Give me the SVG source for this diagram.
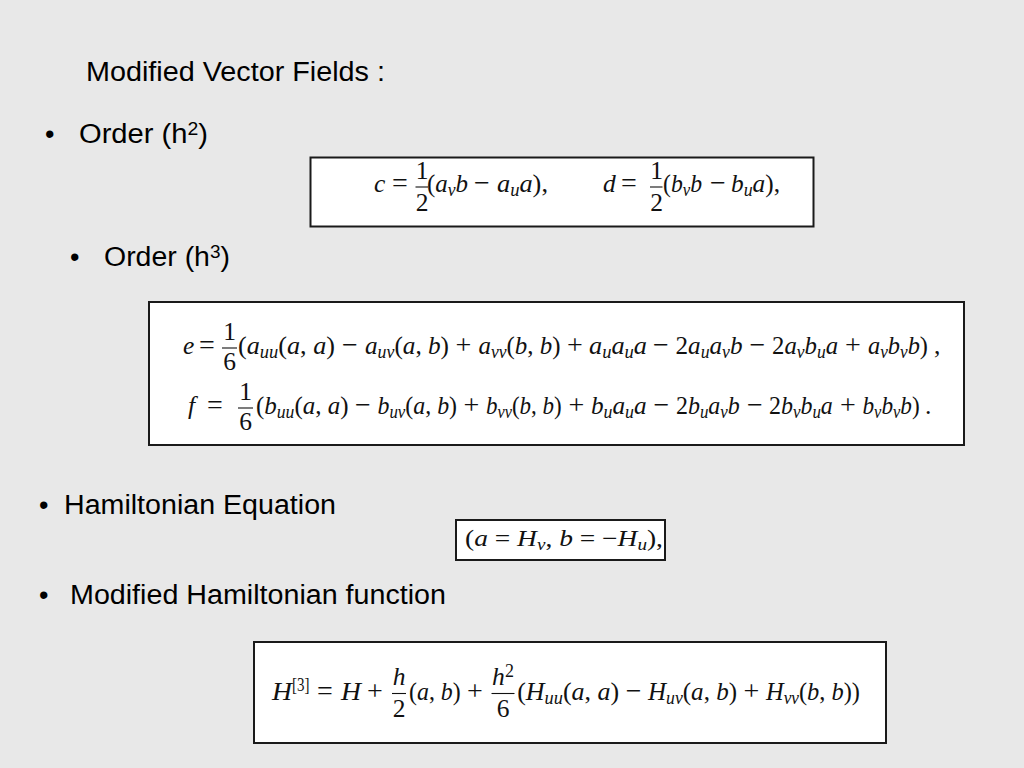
<svg xmlns="http://www.w3.org/2000/svg" width="1024" height="768" viewBox="0 0 1024 768">
<style>
.t{font-family:"Liberation Sans",Arial,sans-serif;font-size:27px;fill:#000}
.m{font-family:"Liberation Serif","Times New Roman",serif;font-size:25.5px;fill:#111}
.i{font-style:italic}
.s{font-size:18px}
.o{font-family:"Liberation Serif","Times New Roman",serif;font-size:28px;fill:#111;text-anchor:middle}
.c{text-anchor:middle}
.bar{stroke:#111;stroke-width:1.1}
.box{fill:#fff;stroke:#1a1a1a;stroke-width:2}
</style>
<rect width="1024" height="768" fill="#e8e8e8"/>

<g id="title">
<text class="t" x="86" y="81" textLength="299" lengthAdjust="spacingAndGlyphs">Modified Vector Fields :</text>
</g>

<g id="bullet-order-h2">
<text class="t" x="45" y="143">•</text>
<text class="t" x="79" y="143" textLength="129" lengthAdjust="spacingAndGlyphs">Order (h<tspan font-size="18" dy="-8">2</tspan><tspan dy="8">)</tspan></text>
</g>

<g id="eq-cd">
<rect class="box" x="310.5" y="157.5" width="503" height="69" stroke-width="3"/>
<text class="m i" x="374" y="192">c</text>
<text class="o" x="400" y="192">=</text>
<text class="m c" x="422" y="179">1</text>
<line class="bar" x1="415.5" y1="187" x2="428" y2="187"/>
<text class="m c" x="422" y="211">2</text>
<text class="m" x="427" y="192" textLength="41" lengthAdjust="spacingAndGlyphs">(<tspan class="i">a</tspan><tspan class="i s" y="196">v</tspan><tspan class="i" y="192">b</tspan></text>
<text class="o" x="482" y="192">−</text>
<text class="m" x="497" y="192" textLength="51" lengthAdjust="spacingAndGlyphs"><tspan class="i">a</tspan><tspan class="i s" y="196">u</tspan><tspan class="i" y="192">a</tspan>),</text>
<text class="m i" x="603" y="192">d</text>
<text class="o" x="629" y="192">=</text>
<text class="m c" x="656.5" y="179">1</text>
<line class="bar" x1="650" y1="187" x2="662.5" y2="187"/>
<text class="m c" x="656.5" y="211">2</text>
<text class="m" x="663" y="192" textLength="39" lengthAdjust="spacingAndGlyphs">(<tspan class="i">b</tspan><tspan class="i s" y="196">v</tspan><tspan class="i" y="192">b</tspan></text>
<text class="o" x="718" y="192">−</text>
<text class="m" x="731" y="192" textLength="49" lengthAdjust="spacingAndGlyphs"><tspan class="i">b</tspan><tspan class="i s" y="196">u</tspan><tspan class="i" y="192">a</tspan>),</text>
</g>

<g id="bullet-order-h3">
<text class="t" x="70" y="266">•</text>
<text class="t" x="104" y="266" textLength="126" lengthAdjust="spacingAndGlyphs">Order (h<tspan font-size="18" dy="-8">3</tspan><tspan dy="8">)</tspan></text>
</g>

<g id="eq-ef">
<rect class="box" x="149" y="302" width="815" height="143"/>
<text class="m i" x="183" y="354">e</text>
<text class="o" x="207" y="354">=</text>
<text class="m c" x="229.5" y="340">1</text>
<line class="bar" x1="222" y1="348" x2="237" y2="348"/>
<text class="m c" x="229.5" y="370">6</text>
<text class="m" x="238" y="354" textLength="97" lengthAdjust="spacingAndGlyphs">(<tspan class="i">a</tspan><tspan class="i s" y="358">uu</tspan><tspan y="354">(</tspan><tspan class="i">a</tspan>, <tspan class="i">a</tspan>)</text>
<text class="o" x="350" y="354">−</text>
<text class="m" x="365" y="354" textLength="84" lengthAdjust="spacingAndGlyphs"><tspan class="i">a</tspan><tspan class="i s" y="358">uv</tspan><tspan y="354">(</tspan><tspan class="i">a</tspan>, <tspan class="i">b</tspan>)</text>
<text class="o" x="463.5" y="354">+</text>
<text class="m" x="478.5" y="354" textLength="82" lengthAdjust="spacingAndGlyphs"><tspan class="i">a</tspan><tspan class="i s" y="358">vv</tspan><tspan y="354">(</tspan><tspan class="i">b</tspan>, <tspan class="i">b</tspan>)</text>
<text class="o" x="575" y="354">+</text>
<text class="m" x="589" y="354" textLength="58" lengthAdjust="spacingAndGlyphs"><tspan class="i">a</tspan><tspan class="i s" y="358">u</tspan><tspan class="i" y="354">a</tspan><tspan class="i s" y="358">u</tspan><tspan class="i" y="354">a</tspan></text>
<text class="o" x="661" y="354">−</text>
<text class="m" x="675.5" y="354" textLength="67" lengthAdjust="spacingAndGlyphs">2<tspan class="i">a</tspan><tspan class="i s" y="358">u</tspan><tspan class="i" y="354">a</tspan><tspan class="i s" y="358">v</tspan><tspan class="i" y="354">b</tspan></text>
<text class="o" x="757.5" y="354">−</text>
<text class="m" x="772" y="354" textLength="66" lengthAdjust="spacingAndGlyphs">2<tspan class="i">a</tspan><tspan class="i s" y="358">v</tspan><tspan class="i" y="354">b</tspan><tspan class="i s" y="358">u</tspan><tspan class="i" y="354">a</tspan></text>
<text class="o" x="853" y="354">+</text>
<text class="m" x="868" y="354" textLength="60" lengthAdjust="spacingAndGlyphs"><tspan class="i">a</tspan><tspan class="i s" y="358">v</tspan><tspan class="i" y="354">b</tspan><tspan class="i s" y="358">v</tspan><tspan class="i" y="354">b</tspan>)</text>
<text class="m" x="934" y="354">,</text>
<text class="m i" x="188" y="414">f</text>
<text class="o" x="215" y="414">=</text>
<text class="m c" x="245.5" y="400">1</text>
<line class="bar" x1="238" y1="408" x2="253" y2="408"/>
<text class="m c" x="245.5" y="430">6</text>
<text class="m" x="256" y="414" textLength="92.5" lengthAdjust="spacingAndGlyphs">(<tspan class="i">b</tspan><tspan class="i s" y="418">uu</tspan><tspan y="414">(</tspan><tspan class="i">a</tspan>, <tspan class="i">a</tspan>)</text>
<text class="o" x="363" y="414">−</text>
<text class="m" x="377.5" y="414" textLength="79.5" lengthAdjust="spacingAndGlyphs"><tspan class="i">b</tspan><tspan class="i s" y="418">uv</tspan><tspan y="414">(</tspan><tspan class="i">a</tspan>, <tspan class="i">b</tspan>)</text>
<text class="o" x="471.5" y="414">+</text>
<text class="m" x="486" y="414" textLength="75.7" lengthAdjust="spacingAndGlyphs"><tspan class="i">b</tspan><tspan class="i s" y="418">vv</tspan><tspan y="414">(</tspan><tspan class="i">b</tspan>, <tspan class="i">b</tspan>)</text>
<text class="o" x="576.5" y="414">+</text>
<text class="m" x="591" y="414" textLength="55.6" lengthAdjust="spacingAndGlyphs"><tspan class="i">b</tspan><tspan class="i s" y="418">u</tspan><tspan class="i" y="414">a</tspan><tspan class="i s" y="418">u</tspan><tspan class="i" y="414">a</tspan></text>
<text class="o" x="661.5" y="414">−</text>
<text class="m" x="676" y="414" textLength="63.8" lengthAdjust="spacingAndGlyphs">2<tspan class="i">b</tspan><tspan class="i s" y="418">u</tspan><tspan class="i" y="414">a</tspan><tspan class="i s" y="418">v</tspan><tspan class="i" y="414">b</tspan></text>
<text class="o" x="755" y="414">−</text>
<text class="m" x="769" y="414" textLength="63.8" lengthAdjust="spacingAndGlyphs">2<tspan class="i">b</tspan><tspan class="i s" y="418">v</tspan><tspan class="i" y="414">b</tspan><tspan class="i s" y="418">u</tspan><tspan class="i" y="414">a</tspan></text>
<text class="o" x="848" y="414">+</text>
<text class="m" x="862.5" y="414" textLength="57.2" lengthAdjust="spacingAndGlyphs"><tspan class="i">b</tspan><tspan class="i s" y="418">v</tspan><tspan class="i" y="414">b</tspan><tspan class="i s" y="418">v</tspan><tspan class="i" y="414">b</tspan>)</text>
<text class="m" x="925" y="414">.</text>
</g>

<g id="bullet-hamiltonian-equation">
<text class="t" x="39" y="514">•</text>
<text class="t" x="64" y="514" textLength="272" lengthAdjust="spacingAndGlyphs">Hamiltonian Equation</text>
</g>

<g id="eq-hamilton">
<rect class="box" x="456" y="520" width="209" height="40"/>
<text class="m" style="font-size:23px" x="465" y="546" textLength="198" lengthAdjust="spacingAndGlyphs">(<tspan class="i">a</tspan> = <tspan class="i">H</tspan><tspan class="i" font-size="16" y="549.5">v</tspan><tspan y="546">, </tspan><tspan class="i">b</tspan> = −<tspan class="i">H</tspan><tspan class="i" font-size="16" y="549.5">u</tspan><tspan y="546">),</tspan></text>
</g>

<g id="bullet-modified-hamiltonian">
<text class="t" x="39" y="604">•</text>
<text class="t" x="70" y="604" textLength="376" lengthAdjust="spacingAndGlyphs">Modified Hamiltonian function</text>
</g>

<g id="eq-modified-hamiltonian">
<rect class="box" x="254" y="642" width="632" height="101"/>
<text class="m i" x="272" y="700" textLength="20" lengthAdjust="spacingAndGlyphs">H</text>
<text class="m s" x="292" y="690.5" textLength="17.5" lengthAdjust="spacingAndGlyphs">[3]</text>
<text class="o" x="325" y="700">=</text>
<text class="m i" x="341" y="700" textLength="20" lengthAdjust="spacingAndGlyphs">H</text>
<text class="o" x="375" y="700">+</text>
<text class="m i c" x="399" y="685">h</text>
<line class="bar" x1="392" y1="693.5" x2="406" y2="693.5"/>
<text class="m c" x="399" y="717">2</text>
<text class="m" x="409" y="700" textLength="51.7" lengthAdjust="spacingAndGlyphs">(<tspan class="i">a</tspan>, <tspan class="i">b</tspan>)</text>
<text class="o" x="475" y="700">+</text>
<text class="m i" x="492" y="685">h</text>
<text class="m s" x="505" y="677">2</text>
<line class="bar" x1="491.5" y1="693.5" x2="514.5" y2="693.5"/>
<text class="m c" x="503" y="717">6</text>
<text class="m" x="517.2" y="700" textLength="101.9" lengthAdjust="spacingAndGlyphs">(<tspan class="i">H</tspan><tspan class="i s" y="704">uu</tspan><tspan y="700">(</tspan><tspan class="i">a</tspan>, <tspan class="i">a</tspan>)</text>
<text class="o" x="633.6" y="700">−</text>
<text class="m" x="648" y="700" textLength="89" lengthAdjust="spacingAndGlyphs"><tspan class="i">H</tspan><tspan class="i s" y="704">uv</tspan><tspan y="700">(</tspan><tspan class="i">a</tspan>, <tspan class="i">b</tspan>)</text>
<text class="o" x="751.5" y="700">+</text>
<text class="m" x="766" y="700" textLength="94" lengthAdjust="spacingAndGlyphs"><tspan class="i">H</tspan><tspan class="i s" y="704">vv</tspan><tspan y="700">(</tspan><tspan class="i">b</tspan>, <tspan class="i">b</tspan>))</text>
</g>
</svg>
